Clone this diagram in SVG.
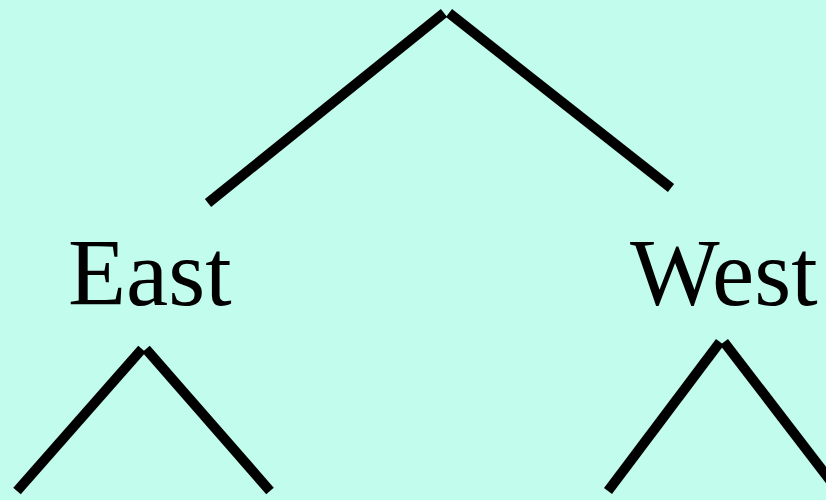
<svg xmlns="http://www.w3.org/2000/svg" width="826" height="500" viewBox="0 0 826 500">
<style>
.e{stroke:#000;stroke-width:10;stroke-linecap:butt;fill:none}
.t{font-family:"Liberation Serif","Times New Roman",serif;font-size:95px;fill:#000}
</style>
<rect width="826" height="500" fill="#C2FCEC"/>
<g id="connectors">
<line class="e" x1="444" y1="13" x2="208" y2="203"/>
<line class="e" x1="449" y1="13" x2="671" y2="188"/>
<line class="e" x1="142" y1="349" x2="17" y2="491"/>
<line class="e" x1="146" y1="349" x2="270" y2="491"/>
<line class="e" x1="720" y1="342" x2="608" y2="491"/>
<line class="e" x1="724" y1="342" x2="836" y2="488"/>
</g>
<g id="node-east"><text class="t" x="68" y="305">East</text></g>
<g id="node-west"><text class="t" x="630" y="305">West</text></g>
</svg>
